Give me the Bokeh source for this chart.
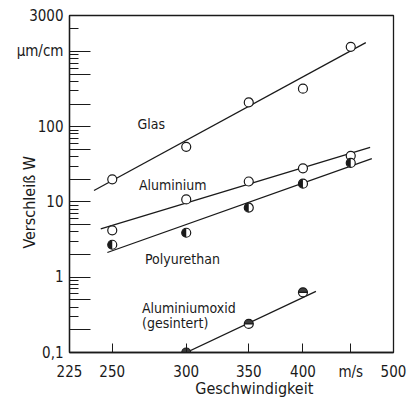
from math import pi
from bokeh.plotting import figure
from bokeh.models import FixedTicker, Label
from bokeh.embed import file_html
from bokeh.resources import INLINE

# ---- data ----
speed = [250, 300, 350, 400, 450]
glas = [20, 54, 210, 320, 1150]
aluminium = [4.2, 10.8, 18.7, 28, 41]
polyurethan = [2.7, 3.9, 8.4, 17.5, 33]
oxid_speed = [300, 350, 400]
aluminiumoxid = [0.1, 0.24, 0.63]

glas_fit_x = [239, 467]
glas_fit_y = [14.2, 1310]
alu_fit_x = [243, 472]
alu_fit_y = [4.4, 53]
pu_fit_x = [247, 474]
pu_fit_y = [2.13, 37.7]
oxid_fit_x = [300, 413]
oxid_fit_y = [0.1, 0.65]

x_ticks = [225, 250, 300, 350, 400, 450, 500]
x_tick_labels = ["225", "250", "300", "350", "400", "m/s", "500"]
y_major = [0.1, 0.2, 0.5, 1, 2, 5, 10, 20, 50, 100, 200, 500, 1000, 3000]
y_major_labels = ["0,1", "", "", "1", "", "", "10", "", "", "100", "", "", "µm/cm", "3000"]
y_minor = [0.3, 0.4, 0.6, 0.7, 0.8, 0.9, 3, 4, 6, 7, 8, 9, 30, 40, 60, 70, 80, 90,
           300, 400, 600, 700, 800, 900, 2000]

FONT = "DejaVu Sans Condensed"
INK = "#1a1a1a"
NB = "\u00a0"

p = figure(width=407, height=406, x_axis_type="log", y_axis_type="log",
           x_range=(225, 500), y_range=(0.1, 3000),
           output_backend="svg", toolbar_location=None,
           min_border_left=69, min_border_right=14, min_border_top=15, min_border_bottom=54)
p.background_fill_color = "white"
p.border_fill_color = "white"
p.outline_line_color = INK
p.outline_line_width = 1.3
p.xgrid.visible = False
p.ygrid.visible = False

xa = p.xaxis[0]
xa.ticker = FixedTicker(ticks=x_ticks, minor_ticks=[])
xa.major_label_overrides = {t: l for t, l in zip(x_ticks, x_tick_labels)}
xa.major_tick_in = 9
xa.major_tick_out = 0
xa.minor_tick_in = 0
xa.minor_tick_out = 0
xa.major_label_standoff = 10
xa.major_label_text_font = FONT
xa.major_label_text_font_size = "15px"
xa.major_label_text_color = INK
xa.axis_line_color = INK
xa.axis_line_width = 1.3
xa.major_tick_line_color = INK
xa.axis_label = NB * 10 + "Geschwindigkeit"
xa.axis_label_standoff = -5
xa.axis_label_text_font = FONT
xa.axis_label_text_font_size = "16px"
xa.axis_label_text_font_style = "normal"
xa.axis_label_text_color = INK

ya = p.yaxis[0]
ya.ticker = FixedTicker(ticks=y_major, minor_ticks=y_minor)
ya.major_label_overrides = {t: l for t, l in zip(y_major, y_major_labels)}
ya.major_tick_in = 21
ya.major_tick_out = 0
ya.minor_tick_in = 9
ya.minor_tick_out = 0
ya.major_label_standoff = 6
ya.major_label_text_font = FONT
ya.major_label_text_font_size = "15px"
ya.major_label_text_color = INK
ya.axis_line_color = INK
ya.axis_line_width = 1.3
ya.major_tick_line_color = INK
ya.minor_tick_line_color = INK
ya.axis_label = "Verschleiß W" + NB * 8
ya.axis_label_standoff = -25
ya.axis_label_text_font = FONT
ya.axis_label_text_font_size = "16px"
ya.axis_label_text_font_style = "normal"
ya.axis_label_text_color = INK

# fit lines
for fx, fy in [(glas_fit_x, glas_fit_y), (alu_fit_x, alu_fit_y),
               (pu_fit_x, pu_fit_y), (oxid_fit_x, oxid_fit_y)]:
    p.line(fx, fy, line_color=INK, line_width=1.3)

# markers
mk = dict(marker="circle", size=9, fill_color="white", line_color=INK, line_width=1.2)
p.scatter(speed, glas, **mk)
p.scatter(speed, aluminium, **mk)
p.scatter(speed, polyurethan, **mk)
p.wedge(x=speed, y=polyurethan, radius=4.5, radius_units="screen",
        start_angle=pi / 2, end_angle=3 * pi / 2, fill_color=INK, line_color=None)
p.scatter(oxid_speed, aluminiumoxid, **mk)
p.wedge(x=oxid_speed, y=aluminiumoxid, radius=4.5, radius_units="screen",
        start_angle=0, end_angle=pi, fill_color=INK, line_color=None, fill_alpha=0.85)
p.scatter(oxid_speed, aluminiumoxid, marker="dash", size=9, line_color=INK, line_width=1.2)

# series annotations
ann = dict(text_font=FONT, text_font_size="14px", text_color=INK,
           text_align="left", text_baseline="middle")
p.add_layout(Label(x=266, y=107, text="Glas", **ann))
p.add_layout(Label(x=267, y=17, text="Aluminium", **ann))
p.add_layout(Label(x=271, y=1.77, text="Polyurethan", **ann))
p.add_layout(Label(x=269, y=0.396, text="Aluminiumoxid", **ann))
p.add_layout(Label(x=269, y=0.243, text="(gesintert)", **ann))

open("out.html", "w").write(file_html(p, INLINE))
